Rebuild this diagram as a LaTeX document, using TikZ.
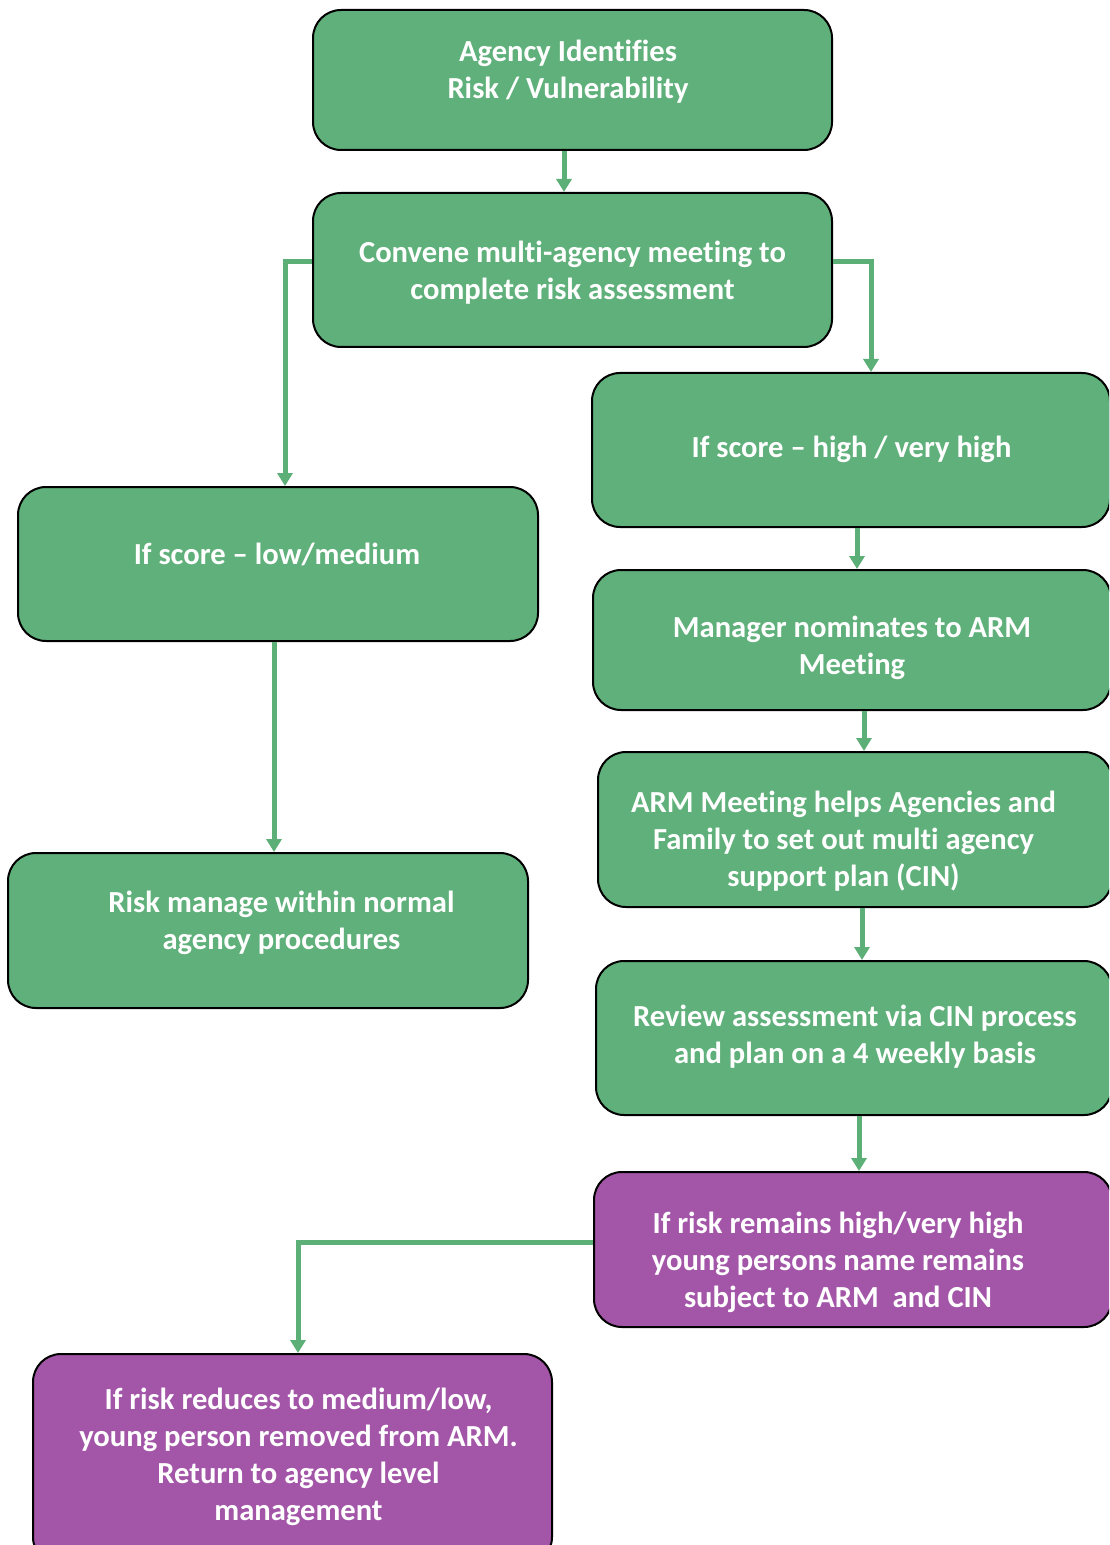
\documentclass[tikz,border=0pt]{standalone}
\usepackage{fontspec}
\setmainfont{Carlito}[Ligatures={NoCommon}]
\usetikzlibrary{arrows.meta,fit}
\definecolor{boxgreen}{HTML}{5FB07A}
\definecolor{boxpurple}{HTML}{A356A8}
\definecolor{linegreen}{HTML}{5DAF78}
\tikzset{
  flowbox/.style={draw=black, line width=1pt, rounded corners=14pt, inner sep=0pt},
  gbox/.style={flowbox, fill=boxgreen},
  pbox/.style={flowbox, fill=boxpurple},
  txt/.style={text=white, font=\bfseries\fontsize{15.3}{18.5}\selectfont, align=center, inner sep=0pt},
  conn/.style={draw=linegreen, line width=2.5pt, -{Triangle[width=7.5pt,length=6.5pt]}}
}
\begin{document}
\begin{tikzpicture}[x=0.5pt, y=-0.5pt]
\useasboundingbox (0,0) rectangle (1109,1545);
\clip (0,0) rectangle (1109,1545);
% boxes
\node[gbox, fit={(313,10) (832,150)}] (a) {};
\node[gbox, fit={(313,193) (832,347)}] (b) {};
\node[gbox, fit={(592,373) (1110,527)}] (c) {};
\node[gbox, fit={(18,487) (538,641)}] (d) {};
\node[gbox, fit={(593,570) (1111,710)}] (e) {};
\node[gbox, fit={(598,752) (1112,907)}] (f) {};
\node[gbox, fit={(8,853) (528,1008)}] (g) {};
\node[gbox, fit={(596,961) (1112,1115)}] (h) {};
\node[pbox, fit={(594,1172) (1112,1327)}] (i) {};
\node[pbox, fit={(33,1354) (552,1565)}] (j) {};
% texts
\node[txt] (ta) at (568,72) {Agency Identifies\\Risk / Vulnerability};
\node[txt] (tb) at (572.5,273) {Convene multi-agency meeting to\\complete risk assessment};
\node[txt] (tc) at (851.5,449) {If score -- high / very high};
\node[txt] (td) at (277,554) {If score -- low/medium};
\node[txt] (te) at (852,648) {Manager nominates to ARM\\Meeting};
\node[txt] (tf) at (843.5,841) {ARM Meeting helps Agencies and\\Family to set out multi agency\\support plan (CIN)};
\node[txt] (tg) at (281.5,923) {Risk manage within normal\\agency procedures};
\node[txt] (th) at (855,1037) {Review assessment via CIN process\\and plan on a 4 weekly basis};
\node[txt] (ti) at (838,1262) {If risk remains high/very high\\young persons name remains\\subject to ARM\ \ and CIN};
\node[txt] (tj) at (298.5,1457) {If risk reduces to medium/low,\\young person removed from ARM.\\Return to agency level\\management};
% connectors
\draw[conn] ([xshift=-4.25pt]a.south) -- ([xshift=-4.25pt]b.north);
\draw[conn] ([yshift=4pt]b.west) -| ([xshift=3.5pt]d.north);
\draw[conn] ([yshift=4pt]b.east) -| ([xshift=10pt]c.north);
\draw[conn] ([xshift=3pt]c.south) -- ([xshift=3pt]c.south |- e.north);
\draw[conn] ([xshift=-2pt]d.south) -- ([xshift=-2pt]d.south |- g.north);
\draw[conn] ([xshift=6pt]e.south) -- ([xshift=6pt]e.south |- f.north);
\draw[conn] ([xshift=3.5pt]f.south) -- ([xshift=3.5pt]f.south |- h.north);
\draw[conn] ([xshift=2.5pt]h.south) -- ([xshift=2.5pt]h.south |- i.north);
\draw[conn] ([yshift=3.75pt]i.west) -| ([xshift=2.75pt]j.north);
\end{tikzpicture}
\end{document}
